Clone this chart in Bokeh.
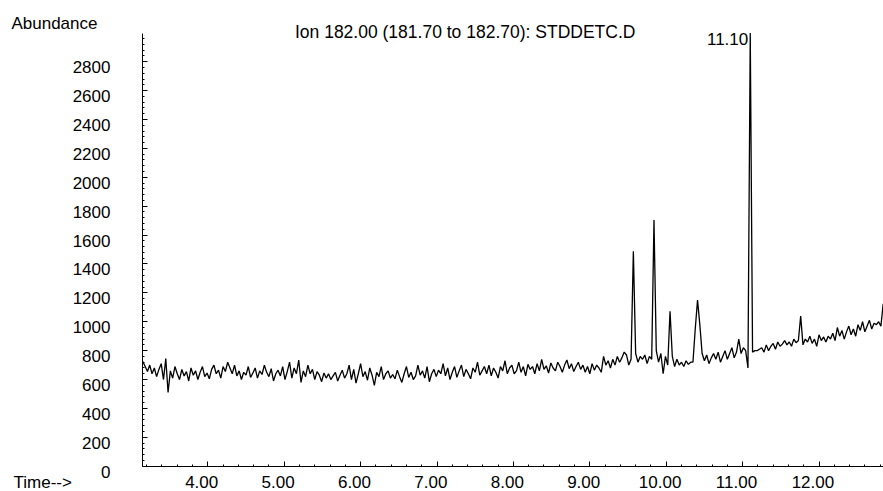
import numpy as np
from bokeh.plotting import figure
from bokeh.models import (Range1d, SingleIntervalTicker, FixedTicker, LinearAxis,
                          CustomJSTickFormatter, Label)
from bokeh.embed import file_html
from bokeh.resources import INLINE

# ---- data ----
scan_start = 3.15      # min, first scan
scan_step = 0.03       # min between scans
abundance = [
    725, 690, 655, 700, 640, 680, 620, 670, 710, 600,
    745, 510, 660, 610, 690, 640, 600, 670, 625, 655,
    590, 680, 630, 660, 600, 650, 690, 620, 645, 605,
    670, 700, 640, 665, 610, 690, 655, 720, 680, 640,
    700, 625, 660, 600, 650, 630, 690, 615, 645, 680,
    610, 660, 635, 700, 650, 620, 675, 590, 640, 665,
    625, 690, 600, 655, 720, 610, 680, 640, 735, 580,
    660, 620, 700, 640, 670, 600, 655, 630, 585, 645,
    610, 640, 600, 625, 650, 590, 630, 665, 610, 640,
    700, 600, 670, 575, 640, 710, 620, 655, 595, 680,
    630, 560, 650, 620, 690, 600, 640, 660, 610, 635,
    605, 665, 620, 580, 640, 690, 615, 650, 600, 625,
    700, 630, 660, 610, 690, 585, 640, 670, 620, 665,
    640, 710, 625, 680, 600, 650, 690, 615, 660, 700,
    620, 670, 640, 605, 680, 650, 720, 630, 660, 690,
    640, 700, 625, 680, 650, 610, 690, 660, 730, 640,
    680, 700, 640, 660, 720, 650, 690, 625, 705, 670,
    690, 640, 710, 660, 740, 670, 695, 645, 715, 680,
    660, 720, 690, 650, 700, 735, 675, 710, 655, 690,
    720, 670, 700, 650, 690, 640, 710, 665, 700, 680,
    650, 760, 700, 730, 680, 740, 700, 760, 720, 750,
    790, 770, 700, 740, 1488, 780, 720, 760, 740, 770,
    710, 760, 740, 1705, 800, 720, 780, 640, 760, 700,
    1073, 760, 690, 740, 700, 720, 690, 730, 705, 720,
    720, 950, 1151, 980, 780, 730, 770, 710, 750, 780,
    740, 790, 720, 760, 800, 740, 780, 820, 750, 790,
    880, 780, 820, 800, 680, 3000, 790, 800, 800, 810,
    820, 790, 840, 800, 830, 850, 810, 860, 830, 845,
    870, 840, 860, 830, 880, 855, 870, 1040, 840, 880,
    860, 900, 850, 880, 830, 910, 870, 895, 860, 900,
    880, 920, 870, 960, 900, 940, 880, 930, 970, 910,
    950, 900, 980, 940, 1000, 930, 970, 1010, 950, 990,
    980, 1000, 970, 1125, 1010,
]
x_tick_values = [4, 5, 6, 7, 8, 9, 10, 11, 12]
x_tick_labels = ["4.00", "5.00", "6.00", "7.00", "8.00", "9.00", "10.00", "11.00", "12.00"]
y_tick_values = [0, 200, 400, 600, 800, 1000, 1200, 1400, 1600, 1800,
                 2000, 2200, 2400, 2600, 2800]
title_text = "Ion 182.00 (181.70 to 182.70): STDDETC.D"
peak_label_text = "11.10"
y_name = "Abundance"
x_name = "Time-->"

FONT = "Liberation Sans"
FS = "17px"

times = scan_start + scan_step * np.arange(len(abundance))

p = figure(width=883, height=491, output_backend="svg", toolbar_location=None,
           x_range=Range1d(1.2867, 12.844), y_range=Range1d(-175.2, 3224.2),
           x_axis_location=None, y_axis_location=None, min_border=0)
p.background_fill_color = "white"
p.border_fill_color = "white"
p.outline_line_color = None
p.grid.visible = False

p.line(times, abundance, line_color="black", line_width=1.3)

blank = CustomJSTickFormatter(code="return ''")

# x axis: line + ticks
xa = LinearAxis(fixed_location=0, bounds=(3.145, 12.844),
                ticker=SingleIntervalTicker(interval=1, num_minor_ticks=5),
                formatter=blank,
                major_tick_in=5, major_tick_out=0, minor_tick_in=2, minor_tick_out=0,
                axis_line_color="black", major_tick_line_color="black",
                minor_tick_line_color="black")
p.add_layout(xa, "below")
# x axis tick labels (printed slightly left of their ticks, as in the original)
x_lab_pos = [t - 0.08 for t in x_tick_values]
xb = LinearAxis(fixed_location=0, ticker=FixedTicker(ticks=x_lab_pos),
                major_label_overrides=dict(zip(x_lab_pos, x_tick_labels)),
                axis_line_color=None, major_tick_line_color=None,
                minor_tick_line_color=None, major_tick_in=0, major_tick_out=0,
                major_label_standoff=10, major_label_text_font=FONT,
                major_label_text_font_size=FS, major_label_text_color="black")
p.add_layout(xb, "below")

# y axis: line + ticks
ya = LinearAxis(fixed_location=3.145, bounds=(0, 2996),
                ticker=SingleIntervalTicker(interval=200, num_minor_ticks=5),
                formatter=blank,
                major_tick_in=5, major_tick_out=0, minor_tick_in=2, minor_tick_out=0,
                axis_line_color="black", major_tick_line_color="black",
                minor_tick_line_color="black")
p.add_layout(ya, "left")
# y axis tick labels (printed slightly below their ticks, as in the original)
y_lab_pos = [v - 38 for v in y_tick_values]
yb = LinearAxis(fixed_location=3.145, ticker=FixedTicker(ticks=y_lab_pos),
                major_label_overrides={k: str(v) for k, v in zip(y_lab_pos, y_tick_values)},
                axis_line_color=None, major_tick_line_color=None,
                minor_tick_line_color=None, major_tick_in=0, major_tick_out=0,
                major_label_standoff=32, major_label_text_font=FONT,
                major_label_text_font_size=FS, major_label_text_color="black")
p.add_layout(yb, "left")

ipk = int(np.argmax(abundance))

p.add_layout(Label(x=7.369, y=3006, text=title_text, text_align="center",
                   text_baseline="middle", text_font=FONT, text_font_size="17.5px",
                   text_color="black"))
p.add_layout(Label(x=float(times[ipk]), y=float(abundance[ipk]), text=peak_label_text,
                   text_align="right", text_baseline="top", x_offset=-2,
                   text_font=FONT, text_font_size=FS, text_color="black"))
p.add_layout(Label(x=1.430, y=3068, text=y_name, text_align="left",
                   text_baseline="middle", text_font=FONT, text_font_size=FS,
                   text_color="black"))
p.add_layout(Label(x=1.457, y=-113, text=x_name, text_align="left",
                   text_baseline="middle", text_font=FONT, text_font_size=FS,
                   text_color="black"))

open("out.html", "w").write(file_html(p, INLINE))
